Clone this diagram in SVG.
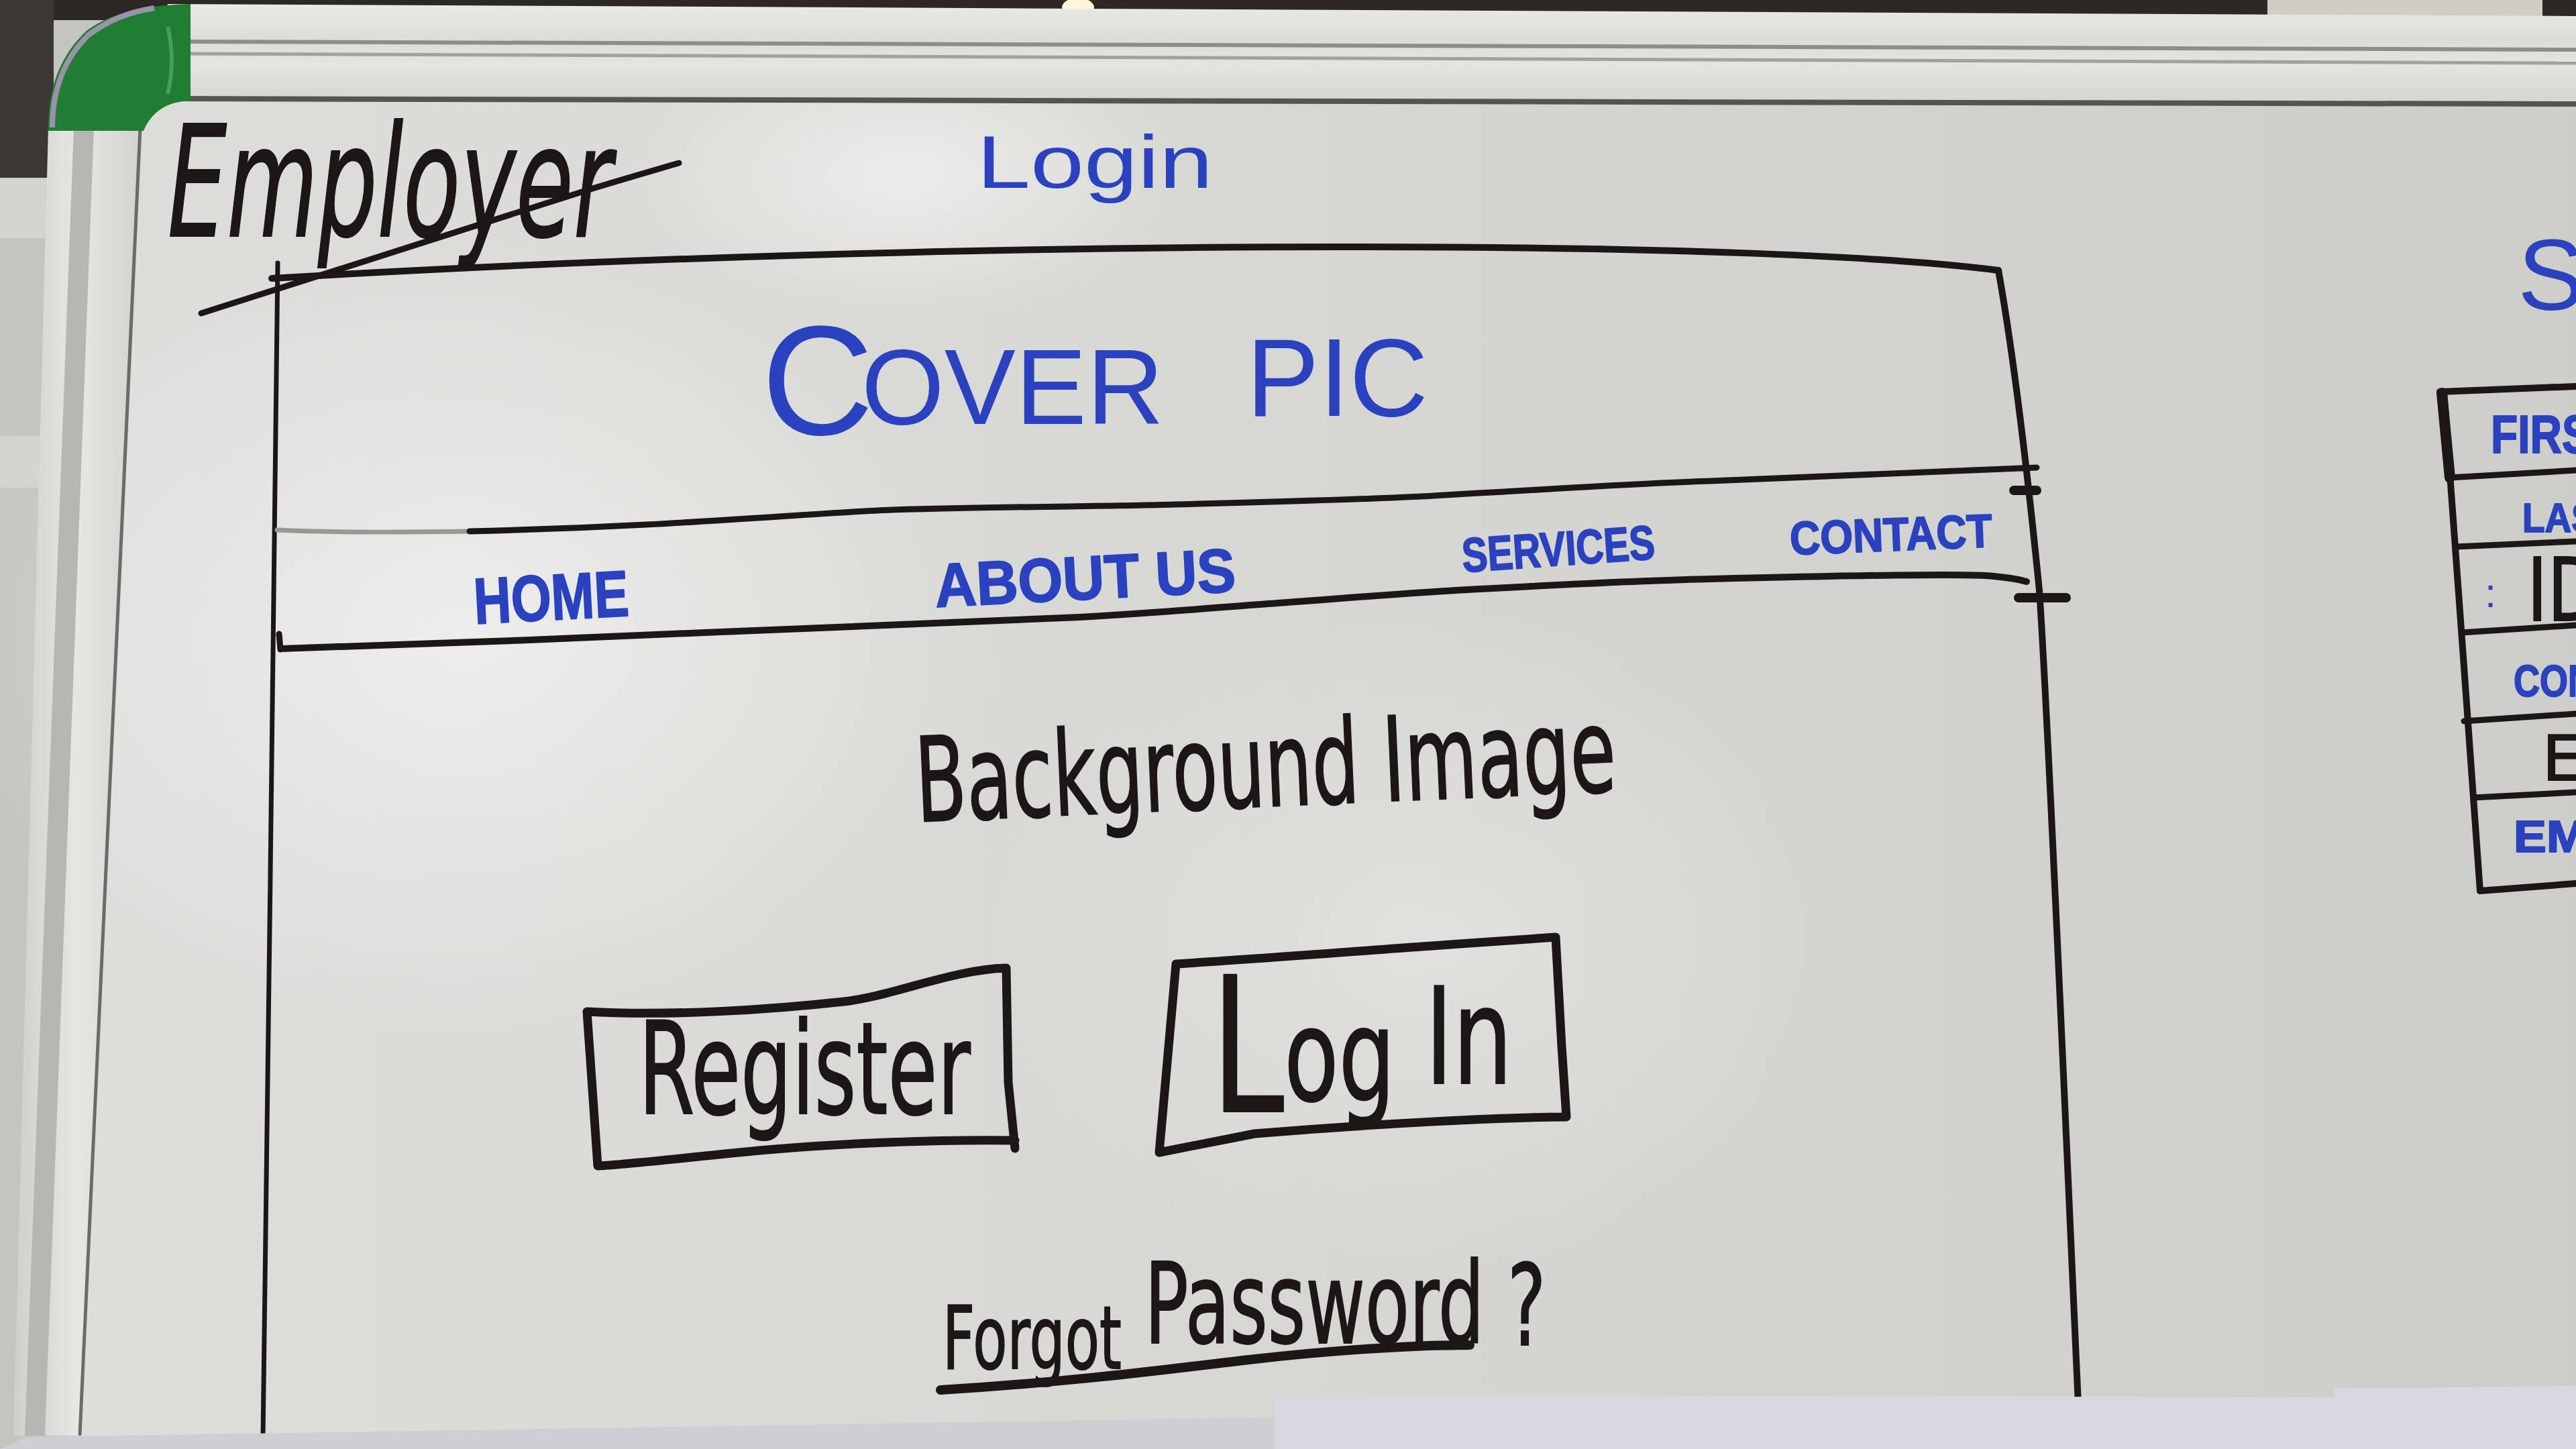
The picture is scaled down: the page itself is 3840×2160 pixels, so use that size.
<svg xmlns="http://www.w3.org/2000/svg" width="3840" height="2160" viewBox="0 0 3840 2160">
  <defs>
    <linearGradient id="boardShade" x1="0" y1="0" x2="1" y2="0">
      <stop offset="0" stop-color="#dddeda"/>
      <stop offset="0.45" stop-color="#d8d8d3"/>
      <stop offset="1" stop-color="#cdcec7"/>
    </linearGradient>
    <radialGradient id="glare" cx="0.5" cy="0.5" r="0.5">
      <stop offset="0" stop-color="#ffffff" stop-opacity="0.5"/>
      <stop offset="1" stop-color="#ffffff" stop-opacity="0"/>
    </radialGradient>
    <linearGradient id="topRail" x1="0" y1="0" x2="0" y2="1">
      <stop offset="0" stop-color="#e9e9e6"/>
      <stop offset="0.35" stop-color="#dcdcd8"/>
      <stop offset="0.6" stop-color="#e4e4e1"/>
      <stop offset="1" stop-color="#d3d3cf"/>
    </linearGradient>
    <linearGradient id="sideRail" x1="0" y1="0" x2="1" y2="0">
      <stop offset="0" stop-color="#cfcfcb"/>
      <stop offset="0.5" stop-color="#e6e6e3"/>
      <stop offset="1" stop-color="#d2d2ce"/>
    </linearGradient>
  </defs>
  <style>
    .ink{fill:none;stroke:#1c1716;stroke-linecap:round;stroke-linejoin:round}
    .hand{fill:#1c1716;stroke:#1c1716;stroke-width:2;font-family:"DejaVu Sans","Liberation Sans",sans-serif}
    .marker{fill:#2a42c0;font-family:"Liberation Sans","DejaVu Sans",sans-serif}
    .thick{font-weight:bold;stroke:#2a42c0;stroke-width:2;stroke-linejoin:round}
  </style>

  <!-- wall and ceiling behind the board -->
  <rect x="0" y="0" width="3840" height="2160" fill="#c4c4c0"/>
  <rect x="0" y="0" width="3840" height="30" fill="#2d2824"/>
  <rect x="3380" y="0" width="410" height="26" fill="#cfcdc6"/>
  <ellipse cx="1607" cy="11" rx="24" ry="14" fill="#fff6dc"/>
  <rect x="0" y="0" width="80" height="265" fill="#3b3733"/>
  <rect x="0" y="265" width="70" height="90" fill="#d3d3cf"/>
  <rect x="0" y="650" width="60" height="77" fill="#d2d2ce"/>

  <!-- writing surface -->
  <g id="board">
    <path d="M205,148 L3840,156 L3840,2160 L110,2160 Z" fill="url(#boardShade)"/>
    <ellipse cx="700" cy="950" rx="800" ry="600" fill="url(#glare)"/>
    <ellipse cx="1350" cy="260" rx="420" ry="220" fill="url(#glare)"/>
    <ellipse cx="2150" cy="1400" rx="700" ry="500" fill="url(#glare)" opacity="0.5"/>
  </g>

  <!-- aluminium frame -->
  <g id="frame">
    <path d="M250,6 L3840,24 L3840,158 L210,150 Z" fill="url(#topRail)"/>
    <path d="M280,62 L3840,74" stroke="#8f8d88" stroke-width="6" fill="none"/>
    <path d="M280,80 L3840,94" stroke="#a3a19c" stroke-width="5" fill="none"/>
    <path d="M210,147 L3840,155" stroke="#57544f" stroke-width="8" fill="none"/>
    <path d="M72,190 L212,190 L122,2140 L20,2140 Z" fill="url(#sideRail)"/>
    <path d="M110,190 L140,190 L67,2140 L37,2140 Z" fill="#b7b6b1"/>
    <path d="M209,190 L119,2140" stroke="#6e6b66" stroke-width="5" fill="none"/>
    <path d="M284,6 L284,150 Q232,152 214,195 L72,195 Q70,100 130,45 Q180,8 284,6 Z" fill="#1f7d34"/>
    <path d="M78,190 Q78,105 132,52 Q175,20 230,12" stroke="#9a92ad" stroke-width="8" fill="none"/>
    <path d="M250,40 Q262,90 250,140" stroke="#5fb56e" stroke-width="6" fill="none" opacity="0.6"/>
  </g>

  <!-- page heading and title strike -->
  <g id="heading">
    <text class="hand" x="250" y="352" font-size="230" font-style="italic" textLength="662" lengthAdjust="spacingAndGlyphs" stroke-width="1">Employer</text>
    <path class="ink" d="M300,467 L880,282 Q960,258 1012,243" stroke-width="9" stroke="#2e2a28"/>
    <text class="marker" x="1456" y="280" font-size="112" textLength="352" lengthAdjust="spacingAndGlyphs">Login</text>
  </g>

  <!-- page outline, cover strip and nav strip -->
  <g id="page-frame">
    <path class="ink" d="M414,392 C410,900 398,1600 392,2142" stroke-width="7"/>
    <path class="ink" d="M405,415 C900,385 1500,368 2000,368 C2450,368 2800,380 2979,403" stroke-width="10"/>
    <path class="ink" d="M2979,403 C3000,520 3020,680 3040,880 C3055,1100 3080,1700 3098,2093" stroke-width="10"/>
    <path d="M413,790 C520,795 640,793 700,792" stroke="#9a9893" stroke-width="7" fill="none" stroke-linecap="round"/>
    <path class="ink" d="M700,792 C1000,785 1200,765 1330,760 C1500,755 1650,755 1750,752 C1950,747 2100,742 2170,737 C2350,727 2450,720 2550,717 C2800,708 2950,700 3036,697" stroke-width="9"/>
    <path class="ink" d="M420,967 C600,962 850,952 1050,943 C1250,935 1450,928 1610,920 C1750,912 1820,905 1890,900 C2000,892 2100,884 2170,880 C2350,870 2450,865 2550,863 C2750,858 2900,855 2960,858 Q3000,861 3021,867" stroke-width="10"/>
    <path class="ink" d="M416,945 L418,968" stroke-width="9"/>
    <path class="ink" d="M3002,731 L3036,731" stroke-width="14"/>
    <path class="ink" d="M3009,891 L3080,891" stroke-width="14"/>
  </g>

  <g id="cover-pic">
    <text class="marker" font-size="160">
      <tspan x="1135" y="648" font-size="232">C</tspan><tspan x="1284" y="632" textLength="495" lengthAdjust="spacingAndGlyphs">OVER </tspan><tspan x="1858" y="620" font-size="165" textLength="271" lengthAdjust="spacingAndGlyphs">PIC</tspan>
    </text>
  </g>

  <g id="nav">
    <text class="marker thick" x="708" y="930" font-size="97" textLength="231" lengthAdjust="spacingAndGlyphs" transform="rotate(-3 708 930)">HOME</text>
    <text class="marker thick" x="1395" y="905" font-size="92" textLength="449" lengthAdjust="spacingAndGlyphs" transform="rotate(-3 1395 905)">ABOUT US</text>
    <text class="marker thick" x="2181" y="853" font-size="72" textLength="288" lengthAdjust="spacingAndGlyphs" transform="rotate(-4 2181 853)">SERVICES</text>
    <text class="marker thick" x="2669" y="827" font-size="70" textLength="302" lengthAdjust="spacingAndGlyphs" transform="rotate(-2.3 2669 827)">CONTACT</text>
  </g>

  <g id="background-image">
    <text class="hand" x="1367" y="1225" font-size="175" textLength="1045" lengthAdjust="spacingAndGlyphs" transform="rotate(-2.5 1367 1225)">Background Image</text>
  </g>

  <g id="register-button">
    <path class="ink" d="M875,1508 C1000,1515 1150,1505 1258,1493 C1330,1485 1420,1445 1500,1443 L1503,1613 L1513,1712 M1513,1700 C1400,1698 1250,1705 1156,1713 C1050,1722 950,1735 891,1738 L875,1508" stroke-width="13"/>
    <text class="hand" x="952" y="1660" font-size="190" textLength="495" lengthAdjust="spacingAndGlyphs" stroke-width="3">Register</text>
  </g>

  <g id="login-button">
    <path class="ink" d="M1753,1437 C1900,1428 2100,1412 2176,1407 L2319,1397 L2328,1560 L2335,1665 C2250,1665 2050,1675 1870,1690 L1728,1718 Z" stroke-width="13"/>
    <!-- condensed handwriting: one run of text squeezed horizontally -->
    <text class="hand" transform="translate(1805 0) scale(0.7 1)" stroke-width="3">
      <tspan x="0" y="1657" font-size="280">L</tspan><tspan y="1640" font-size="190">og</tspan><tspan y="1615" font-size="200"> In</tspan>
    </text>
  </g>

  <g id="forgot-password">
    <text class="hand" transform="translate(1405 0) scale(0.645 1)" stroke-width="3">
      <tspan x="0" y="2040" font-size="130">Forgot</tspan><tspan y="2002" font-size="168"> Password</tspan><tspan y="2005" font-size="168"> ?</tspan>
    </text>
    <path class="ink" d="M1402,2072 C1600,2060 1750,2040 1861,2027 S2100,2005 2191,2005" stroke-width="14"/>
  </g>

  <!-- second sketch at the right edge of the board -->
  <g id="signup-form">
    <text class="marker" x="3753" y="462" font-size="150">S</text>
    <path class="ink" d="M3637,584 L3840,576" stroke-width="10"/>
    <path class="ink" d="M3643,584 C3660,800 3680,1100 3697,1328" stroke-width="10"/>
    <path class="ink" d="M3640,586 L3652,712" stroke-width="16"/>
    <path class="ink" d="M3652,712 L3840,701" stroke-width="9"/>
    <path class="ink" d="M3660,815 L3840,807" stroke-width="9"/>
    <path class="ink" d="M3669,943 L3840,932" stroke-width="9"/>
    <path class="ink" d="M3673,1075 L3840,1064" stroke-width="9"/>
    <path class="ink" d="M3687,1189 L3840,1181" stroke-width="9"/>
    <path class="ink" d="M3697,1328 L3840,1317" stroke-width="10"/>
    <text class="marker thick" x="3713" y="675" font-size="80" textLength="150" lengthAdjust="spacingAndGlyphs">FIRS</text>
    <text class="marker thick" x="3760" y="793" font-size="62" textLength="110" lengthAdjust="spacingAndGlyphs">LAS</text>
    <text class="marker" x="3704" y="905" font-size="62">:</text>
    <text class="hand" x="3767" y="925" font-size="130" textLength="110" lengthAdjust="spacingAndGlyphs" stroke-width="3">ID</text>
    <text class="marker thick" x="3747" y="1038" font-size="66" textLength="120" lengthAdjust="spacingAndGlyphs">CON</text>
    <text class="hand" x="3790" y="1163" font-size="92" stroke-width="3">E</text>
    <text class="marker thick" x="3747" y="1270" font-size="66" textLength="110" lengthAdjust="spacingAndGlyphs">EM</text>
  </g>

  <!-- paper in the foreground along the bottom edge -->
  <path d="M40,2142 L1900,2113 L1900,2160 L0,2160 Z" fill="#cfcfd3"/>
  <path d="M1900,2079 L3480,2083 L3480,2070 L3840,2066 L3840,2160 L1900,2160 Z" fill="#d9d8e1"/>
</svg>
